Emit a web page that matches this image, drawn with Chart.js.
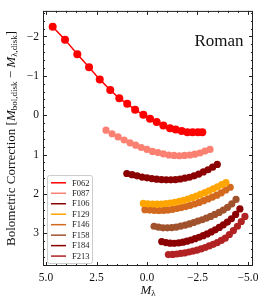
<!DOCTYPE html>
<html>
<head>
<meta charset="utf-8">
<script src="https://cdn.jsdelivr.net/npm/chart.js@4/dist/chart.umd.min.js"></script>
<style>
  html, body { margin: 0; padding: 0; background: #fff; }
  canvas { display: block; }
</style>
</head>
<body>
<canvas id="bcChart" width="266" height="304"></canvas>
<script>
// Bolometric correction vs M_lambda, one curve per Roman filter
const filters = ['F062', 'F087', 'F106', 'F129', 'F146', 'F158', 'F184', 'F213'];
const colors = ['#ff0000', '#fa8072', '#8b0000', '#ffa500', '#d2691e', '#a0522d', '#8b0000', '#b22222'];

const mF062 = [4.67, 4.06, 3.45, 2.87, 2.34, 1.82, 1.37, 0.98, 0.59, 0.18, -0.15, -0.48, -0.81, -1.14, -1.42, -1.72, -2.00, -2.26, -2.52, -2.74];
const bcF062 = [-2.25, -1.92, -1.55, -1.22, -0.91, -0.64, -0.43, -0.29, -0.14, -0.01, 0.09, 0.17, 0.26, 0.33, 0.36, 0.40, 0.43, 0.43, 0.43, 0.43];

const mF087 = [2.03, 1.73, 1.43, 1.13, 0.84, 0.56, 0.28, 0.00, -0.27, -0.54, -0.81, -1.08, -1.34, -1.60, -1.86, -2.12, -2.37, -2.62, -2.87, -3.12];
const bcF087 = [0.38, 0.47, 0.55, 0.63, 0.70, 0.76, 0.82, 0.87, 0.92, 0.95, 0.98, 1.01, 1.02, 1.03, 1.02, 1.01, 0.99, 0.96, 0.91, 0.87];

const mF106 = [1.00, 0.74, 0.49, 0.24, 0.00, -0.24, -0.48, -0.72, -0.95, -1.18, -1.41, -1.64, -1.87, -2.10, -2.33, -2.56, -2.79, -3.02, -3.25, -3.48];
const bcF106 = [1.48, 1.51, 1.54, 1.57, 1.59, 1.61, 1.625, 1.635, 1.64, 1.64, 1.635, 1.62, 1.60, 1.575, 1.54, 1.495, 1.44, 1.385, 1.32, 1.25];

const mF129 = [0.18, -0.05, -0.28, -0.50, -0.72, -0.94, -1.16, -1.38, -1.60, -1.81, -2.02, -2.23, -2.44, -2.65, -2.86, -3.07, -3.28, -3.49, -3.70, -3.91];
const bcF129 = [2.24, 2.25, 2.255, 2.26, 2.255, 2.245, 2.23, 2.21, 2.185, 2.16, 2.13, 2.095, 2.055, 2.01, 1.965, 1.92, 1.87, 1.82, 1.765, 1.71];

const mF146 = [0.10, -0.13, -0.36, -0.59, -0.82, -1.04, -1.26, -1.48, -1.70, -1.92, -2.14, -2.36, -2.58, -2.80, -3.02, -3.24, -3.46, -3.68, -3.90, -4.12];
const bcF146 = [2.40, 2.41, 2.415, 2.42, 2.415, 2.405, 2.39, 2.37, 2.345, 2.32, 2.29, 2.255, 2.215, 2.17, 2.125, 2.08, 2.03, 1.97, 1.90, 1.83];

const mF158 = [-0.35, -0.57, -0.79, -1.01, -1.23, -1.45, -1.67, -1.89, -2.10, -2.31, -2.52, -2.73, -2.94, -3.15, -3.36, -3.57, -3.78, -3.99, -4.20, -4.41];
const bcF158 = [2.82, 2.845, 2.86, 2.86, 2.855, 2.84, 2.815, 2.79, 2.76, 2.725, 2.69, 2.655, 2.615, 2.57, 2.52, 2.47, 2.41, 2.34, 2.25, 2.14];

const mF184 = [-0.73, -0.94, -1.15, -1.36, -1.57, -1.78, -1.98, -2.18, -2.38, -2.58, -2.78, -2.98, -3.18, -3.38, -3.58, -3.78, -3.98, -4.18, -4.39, -4.60];
const bcF184 = [3.21, 3.235, 3.25, 3.255, 3.245, 3.225, 3.20, 3.17, 3.135, 3.10, 3.06, 3.015, 2.965, 2.91, 2.85, 2.785, 2.715, 2.63, 2.52, 2.38];

const mF213 = [-1.06, -1.27, -1.48, -1.68, -1.88, -2.08, -2.28, -2.48, -2.68, -2.88, -3.08, -3.28, -3.48, -3.68, -3.88, -4.08, -4.28, -4.48, -4.67, -4.85];
const bcF213 = [3.54, 3.535, 3.525, 3.51, 3.495, 3.475, 3.45, 3.425, 3.395, 3.36, 3.32, 3.28, 3.235, 3.18, 3.12, 3.03, 2.93, 2.82, 2.70, 2.57];

const xTicks = [5.0, 2.5, 0.0, -2.5, -5.0];
const yTicks = [-2, -1, 0, 1, 2, 3];

const mValues = [mF062, mF087, mF106, mF129, mF146, mF158, mF184, mF213];
const bcValues = [bcF062, bcF087, bcF106, bcF129, bcF146, bcF158, bcF184, bcF213];

const SERIF = '"Liberation Serif", "DejaVu Serif", serif';

function fmtMinus(s) {
    return s.replace('-', '\u2212');
}

const datasets = filters.map((name, i) => ({
    label: name,
    data: mValues[i].map((m, j) => ({ x: m, y: bcValues[i][j] })),
    borderColor: colors[i],
    backgroundColor: colors[i],
    pointBackgroundColor: colors[i],
    pointBorderWidth: 0,
    pointRadius: i === 0 ? 4 : 3.6,
    borderWidth: 1.5,
    tension: 0,
    fill: false
}));

// inward ticks on all four sides + frame, like matplotlib
const frameTicks = {
    id: 'frameTicks',
    afterDraw(chart) {
        const ctx = chart.ctx;
        const a = chart.chartArea;
        const xs = chart.scales.x, ys = chart.scales.y;
        ctx.save();
        ctx.strokeStyle = '#222';
        ctx.lineWidth = 1;
        ctx.beginPath();
        for (let v = -5.0; v <= 5.0 + 1e-9; v += 0.5) {
            const px = Math.round(xs.getPixelForValue(v)) + 0.5;
            const major = Math.abs(v / 2.5 - Math.round(v / 2.5)) < 1e-6;
            const len = major ? 4 : 2;
            ctx.moveTo(px, a.bottom); ctx.lineTo(px, a.bottom - len);
            ctx.moveTo(px, a.top); ctx.lineTo(px, a.top + len);
        }
        for (let v = -2.6; v <= 3.8 + 1e-9; v += 0.2) {
            const py = Math.round(ys.getPixelForValue(v)) + 0.5;
            const major = Math.abs(v - Math.round(v)) < 1e-6;
            const len = major ? 4 : 2;
            ctx.moveTo(a.left, py); ctx.lineTo(a.left + len, py);
            ctx.moveTo(a.right, py); ctx.lineTo(a.right - len, py);
        }
        ctx.stroke();
        ctx.strokeRect(a.left + 0.5, a.top + 0.5, a.right - a.left - 1, a.bottom - a.top - 1);
        ctx.restore();
    }
};

// draw a run of text pieces (with subscripts) centred on 0,0
function drawRich(ctx, parts) {
    let total = 0;
    parts.forEach(p => { ctx.font = p.font; p.w = ctx.measureText(p.t).width; total += p.w; });
    let x = -total / 2;
    parts.forEach(p => {
        ctx.font = p.font;
        ctx.fillText(p.t, x, p.sub ? 3 : 0);
        x += p.w;
    });
}

const annotations = {
    id: 'annotations',
    afterDraw(chart) {
        const ctx = chart.ctx;
        const a = chart.chartArea;
        ctx.save();
        ctx.fillStyle = '#111';
        ctx.textBaseline = 'middle';
        ctx.textAlign = 'left';

        // y axis title
        ctx.save();
        ctx.translate(12, (a.top + a.bottom) / 2);
        ctx.rotate(-Math.PI / 2);
        drawRich(ctx, [
            { t: 'Bolometric Correction [', font: '13px ' + SERIF },
            { t: 'M', font: 'italic 13px ' + SERIF },
            { t: 'bol,disk', font: '9px ' + SERIF, sub: true },
            { t: ' \u2212 ', font: '13px ' + SERIF },
            { t: 'M', font: 'italic 13px ' + SERIF },
            { t: '\u03bb,disk', font: '9px ' + SERIF, sub: true },
            { t: ']', font: '13px ' + SERIF }
        ]);
        ctx.restore();

        // x axis title
        ctx.save();
        ctx.translate((a.left + a.right) / 2, 291);
        drawRich(ctx, [
            { t: 'M', font: 'italic 13px ' + SERIF },
            { t: '\u03bb', font: '9px ' + SERIF, sub: true }
        ]);
        ctx.restore();

        // panel label
        ctx.font = '17px ' + SERIF;
        ctx.textAlign = 'right';
        ctx.textBaseline = 'alphabetic';
        ctx.fillText('Roman', 243.5, 46);

        // legend box
        const bx = 47, by = 175, bw = 45, bh = 88;
        ctx.fillStyle = 'rgba(255,255,255,0.85)';
        ctx.strokeStyle = '#cccccc';
        ctx.lineWidth = 1;
        ctx.beginPath();
        ctx.roundRect(bx + 0.5, by + 0.5, bw, bh, 2);
        ctx.fill();
        ctx.stroke();
        ctx.font = '8.5px ' + SERIF;
        ctx.textAlign = 'left';
        ctx.textBaseline = 'middle';
        filters.forEach((name, i) => {
            const yy = 182.8 + i * 10.47;
            ctx.strokeStyle = colors[i];
            ctx.lineWidth = 1.5;
            ctx.beginPath();
            ctx.moveTo(51, yy); ctx.lineTo(66, yy);
            ctx.stroke();
            ctx.fillStyle = '#222';
            ctx.fillText(name, 72, yy + 0.5);
        });
        ctx.restore();
    }
};

new Chart(document.getElementById('bcChart').getContext('2d'), {
    type: 'line',
    data: { datasets: datasets },
    options: {
        responsive: false,
        animation: false,
        devicePixelRatio: 1,
        layout: { padding: { top: 5, right: 13, left: 0, bottom: 0 } },
        plugins: {
            legend: { display: false },
            tooltip: { enabled: false }
        },
        scales: {
            x: {
                type: 'linear',
                min: -5.25,
                max: 5.15,
                reverse: true,
                grid: { display: false, drawTicks: false },
                border: { display: false },
                afterBuildTicks: s => { s.ticks = xTicks.map(v => ({ value: v })); },
                afterFit: s => { s.height = 38; },
                ticks: {
                    padding: 5,
                    color: '#111',
                    font: { family: SERIF, size: 11.5 },
                    maxRotation: 0,
                    callback: v => fmtMinus(v.toFixed(1))
                }
            },
            y: {
                type: 'linear',
                min: -2.65,
                max: 3.83,
                reverse: true,
                grid: { display: false, drawTicks: false },
                border: { display: false },
                afterBuildTicks: s => { s.ticks = yTicks.map(v => ({ value: v })); },
                afterFit: s => { s.width = 43; },
                ticks: {
                    padding: 4,
                    color: '#111',
                    font: { family: SERIF, size: 11.5 },
                    callback: v => fmtMinus(String(v))
                }
            }
        }
    },
    plugins: [frameTicks, annotations]
});
</script>
</body>
</html>
